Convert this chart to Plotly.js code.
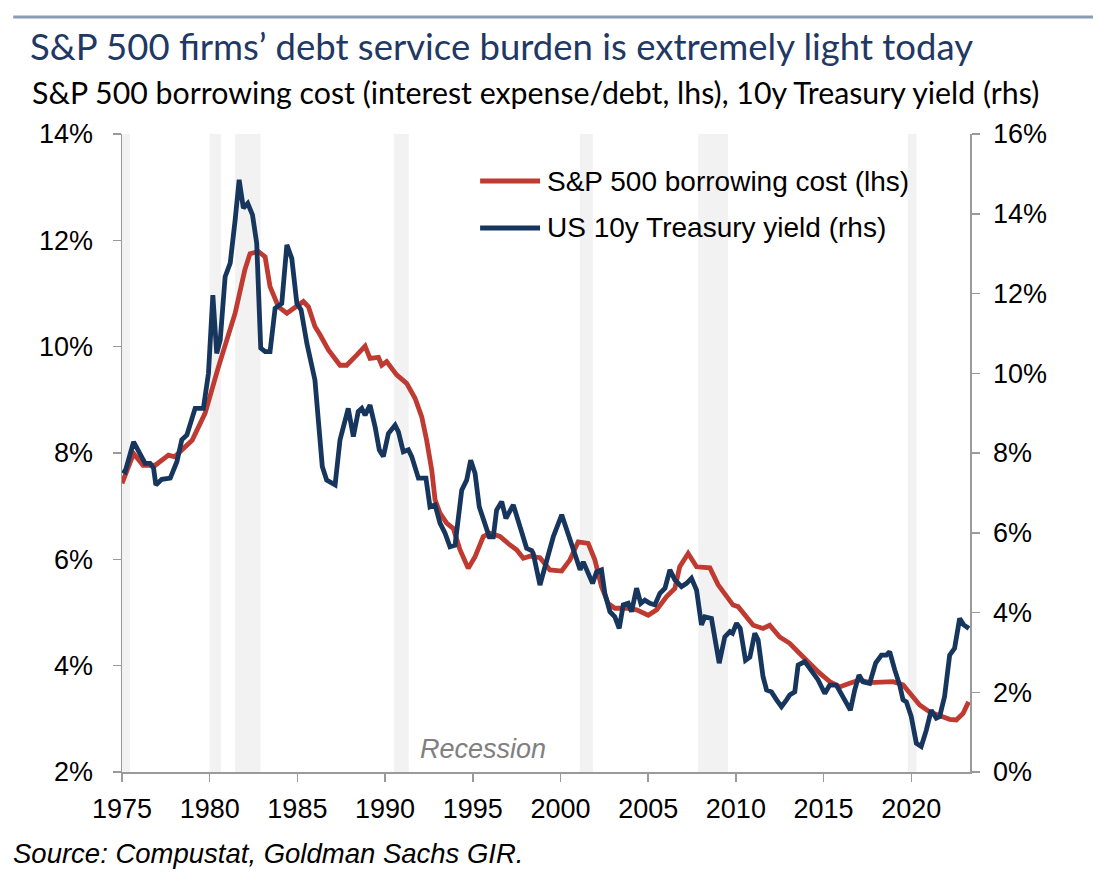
<!DOCTYPE html>
<html>
<head>
<meta charset="utf-8">
<script src="https://cdn.plot.ly/plotly-3.0.1.min.js"></script>
<style>html,body{margin:0;padding:0;background:#fff;}#chart{width:1105px;height:893px;}</style>
</head>
<body>
<div id="chart"></div>
<script>
// S&P 500 borrowing cost (interest expense / debt), % (left axis)
const costYears = [1975.0,1975.66,1976.2,1976.9,1977.65,1978.0,1979.0,1979.74,1980.5,1981.45,1982.0,1982.3,1982.78,1983.16,1983.44,1983.92,1984.4,1984.87,1985.34,1985.63,1986.0,1986.3,1986.77,1987.43,1987.81,1988.38,1988.86,1989.14,1989.62,1989.81,1990.09,1990.66,1991.23,1991.71,1992.09,1992.37,1992.66,1992.85,1993.13,1993.51,1993.89,1994.27,1994.74,1995.13,1995.6,1995.98,1996.55,1997.12,1997.5,1997.88,1998.26,1998.83,1999.4,2000.07,2000.54,2001.01,2001.58,2001.96,2002.34,2002.72,2003.1,2003.77,2004.34,2005.0,2005.48,2006.05,2006.52,2006.8,2007.28,2007.76,2008.52,2008.99,2009.47,2009.84,2010.13,2010.61,2010.99,2011.55,2011.93,2012.5,2013.07,2013.64,2014.21,2014.78,2015.35,2015.92,2016.49,2017.06,2017.63,2018.2,2018.96,2019.53,2020.01,2020.48,2021.05,2021.62,2022.19,2022.57,2022.95,2023.27];
const costValues = [7.43,7.99,7.77,7.77,7.96,7.93,8.24,8.75,9.62,10.63,11.44,11.75,11.79,11.69,11.13,10.75,10.63,10.75,10.85,10.75,10.38,10.22,9.94,9.65,9.65,9.84,10.01,9.78,9.80,9.65,9.72,9.47,9.31,9.03,8.68,8.24,7.68,7.12,6.87,6.68,6.58,6.18,5.83,6.05,6.43,6.49,6.43,6.27,6.18,6.02,6.06,6.03,5.80,5.78,5.99,6.33,6.30,5.99,5.49,5.17,5.08,5.08,5.05,4.95,5.05,5.30,5.45,5.86,6.11,5.86,5.84,5.52,5.30,5.14,5.11,4.90,4.76,4.70,4.76,4.54,4.42,4.23,4.04,3.86,3.70,3.60,3.67,3.73,3.68,3.68,3.70,3.64,3.45,3.26,3.13,3.07,2.99,2.98,3.10,3.32];

// US 10y Treasury yield, % (right axis)
const yieldYears = [1975.03,1975.18,1975.66,1976.04,1976.32,1976.6,1976.8,1976.93,1977.27,1977.75,1978.13,1978.41,1978.7,1979.17,1979.64,1979.93,1980.18,1980.4,1980.6,1980.88,1981.17,1981.45,1981.68,1981.92,1982.17,1982.44,1982.68,1982.91,1983.16,1983.44,1983.73,1984.11,1984.4,1984.68,1984.97,1985.21,1985.54,1986.0,1986.24,1986.42,1986.67,1987.15,1987.43,1987.9,1988.19,1988.47,1988.67,1988.86,1989.14,1989.43,1989.67,1989.9,1990.19,1990.57,1990.76,1991.04,1991.33,1991.52,1991.9,1992.33,1992.56,1992.85,1993.13,1993.42,1993.7,1993.99,1994.37,1994.65,1994.88,1995.13,1995.37,1995.7,1995.94,1996.17,1996.36,1996.65,1996.89,1997.31,1997.69,1998.07,1998.36,1998.45,1998.83,1999.21,1999.59,2000.07,2000.54,2001.12,2001.3,2001.58,2001.83,2002.06,2002.34,2002.53,2002.82,2003.1,2003.35,2003.58,2003.86,2004.05,2004.34,2004.58,2004.81,2005.1,2005.38,2005.67,2005.96,2006.24,2006.52,2006.9,2007.19,2007.47,2007.76,2008.04,2008.23,2008.61,2009.05,2009.37,2009.66,2009.81,2010.04,2010.25,2010.55,2010.8,2011.08,2011.27,2011.55,2011.75,2012.03,2012.32,2012.6,2012.89,2013.07,2013.36,2013.55,2013.93,2014.31,2014.69,2015.07,2015.35,2015.73,2016.11,2016.53,2016.78,2017.02,2017.25,2017.63,2017.97,2018.3,2018.58,2018.77,2019.06,2019.34,2019.53,2019.72,2020.0,2020.29,2020.57,2020.86,2021.14,2021.43,2021.62,2021.9,2022.19,2022.47,2022.76,2022.99,2023.29];
const yieldValues = [7.57,7.53,8.28,7.99,7.74,7.74,7.62,7.20,7.34,7.37,7.78,8.33,8.45,9.12,9.12,10.0,11.96,10.5,10.83,12.42,12.76,13.84,14.85,14.14,14.26,13.97,13.26,10.63,10.54,10.54,11.63,11.75,13.22,12.88,11.75,11.59,10.75,9.83,8.58,7.66,7.32,7.20,8.33,9.12,8.41,9.04,9.12,8.95,9.20,8.66,8.08,7.91,8.49,8.70,8.53,8.03,8.08,7.91,7.37,7.37,6.65,6.70,6.24,5.99,5.65,5.69,7.07,7.32,7.82,7.49,6.65,6.24,5.90,5.90,6.57,6.78,6.36,6.70,6.15,5.61,5.55,5.48,4.69,5.32,5.90,6.45,5.82,5.07,5.27,4.98,4.73,5.02,5.07,4.48,4.02,3.89,3.60,4.19,4.23,4.02,4.61,4.23,4.31,4.23,4.19,4.48,4.61,5.07,4.82,4.65,4.73,4.86,4.56,3.69,3.89,3.85,2.73,3.39,3.52,3.48,3.73,3.60,2.80,2.88,3.48,3.31,2.39,2.06,2.01,1.81,1.64,1.81,1.93,2.01,2.68,2.77,2.56,2.31,1.97,2.18,2.18,1.89,1.55,2.06,2.43,2.26,2.22,2.73,2.93,2.93,3.02,2.56,2.18,1.81,1.76,1.39,0.72,0.64,1.05,1.55,1.35,1.39,1.89,2.93,3.10,3.85,3.69,3.60];

// US recessions (decimal years)
const recessionStart = [1975.0,1980.0,1981.45,1990.5,2001.1,2007.85,2019.8];
const recessionEnd   = [1975.45,1980.65,1982.9,1991.35,2001.85,2009.55,2020.3];

const xTicks = [1975,1980,1985,1990,1995,2000,2005,2010,2015,2020];
const leftTicks = [2,4,6,8,10,12,14];
const rightTicks = [0,2,4,6,8,10,12,14,16];

const RED = '#BF3A30', BLUE = '#17365D', AXIS = '#9A9A9A';
const TICKFONT = {family: 'Liberation Sans, Arial, sans-serif', size: 27, color: '#000'};
const LEGENDFONT = {family: 'Liberation Sans, Arial, sans-serif', size: 28, color: '#000'};

const traces = [
  {x: costYears, y: costValues, type: 'scatter', mode: 'lines', name: 'S&P 500 borrowing cost (lhs)',
   line: {color: RED, width: 4.8}, yaxis: 'y', showlegend: false},
  {x: yieldYears, y: yieldValues, type: 'scatter', mode: 'lines', name: 'US 10y Treasury yield (rhs)',
   line: {color: BLUE, width: 4.8}, yaxis: 'y2', showlegend: false}
];

const shapes = recessionStart.map((s, i) => ({
  type: 'rect', xref: 'x', yref: 'paper', x0: s, x1: recessionEnd[i], y0: 0, y1: 1,
  fillcolor: '#F2F2F2', line: {width: 0}, layer: 'below'
}));
// top rule
shapes.push({type: 'line', xref: 'paper', yref: 'paper', x0: -0.1283, x1: 1.145, y0: 1.1834, y1: 1.1834,
  line: {color: '#8A9BB5', width: 3}});
// legend samples
shapes.push({type: 'line', xref: 'paper', yref: 'paper', x0: 0.4223, x1: 0.4930, y0: 0.9263, y1: 0.9263,
  line: {color: RED, width: 4.8}});
shapes.push({type: 'line', xref: 'paper', yref: 'paper', x0: 0.4223, x1: 0.4930, y0: 0.8527, y1: 0.8527,
  line: {color: BLUE, width: 4.8}});

const annotations = [
  {text: 'S&amp;P 500 borrowing cost (interest expense/debt, lhs), 10y Treasury yield (rhs)',
   xref: 'paper', yref: 'paper', x: -0.108, y: 1.0658, xanchor: 'left', yanchor: 'middle', showarrow: false,
   font: {family: 'Lato, sans-serif', size: 30.3, color: '#000'}},
  {text: traces[0].name.replace('&', '&amp;'), xref: 'paper', yref: 'paper', x: 0.499, y: 0.9263,
   xanchor: 'left', yanchor: 'middle', showarrow: false, font: LEGENDFONT},
  {text: traces[1].name, xref: 'paper', yref: 'paper', x: 0.499, y: 0.8527,
   xanchor: 'left', yanchor: 'middle', showarrow: false, font: LEGENDFONT},
  {text: '<i>Recession</i>', xref: 'paper', yref: 'paper', x: 0.4258, y: 0.036,
   xanchor: 'center', yanchor: 'middle', showarrow: false,
   font: {family: 'Liberation Sans, Arial, sans-serif', size: 27, color: '#808080'}},
  {text: '<i>Source: Compustat, Goldman Sachs GIR.</i>', xref: 'paper', yref: 'paper', x: -0.1305, y: -0.1270,
   xanchor: 'left', yanchor: 'middle', showarrow: false,
   font: {family: 'Liberation Sans, Arial, sans-serif', size: 27.5, color: '#000'}}
];

const layout = {
  width: 1105, height: 893,
  margin: {l: 122, r: 135, t: 134, b: 121, pad: 0},
  paper_bgcolor: '#fff', plot_bgcolor: 'rgba(0,0,0,0)',
  title: {text: 'S&amp;P 500 firms’ debt service burden is extremely light today',
    x: 30/1105, xanchor: 'left', xref: 'container', y: 1 - 47/893, yanchor: 'middle', yref: 'container',
    font: {family: 'Lato, sans-serif', size: 36.5, color: '#1F3864'}},
  xaxis: {range: [1975, 2023.35], tickvals: xTicks, ticktext: xTicks.map(String),
    ticks: 'outside', ticklen: 8, tickwidth: 1.5, tickcolor: AXIS,
    showline: true, linecolor: AXIS, linewidth: 1.5, showgrid: false, zeroline: false,
    tickfont: TICKFONT, ticklabelstandoff: 4, fixedrange: true},
  yaxis: {range: [2, 14], tickvals: leftTicks, ticktext: leftTicks.map(v => v + '%'),
    ticks: 'outside', ticklen: 8, tickwidth: 1.5, tickcolor: AXIS,
    showline: true, linecolor: AXIS, linewidth: 1.5, showgrid: false, zeroline: false,
    tickfont: TICKFONT, ticklabelstandoff: 14},
  yaxis2: {range: [0, 16], tickvals: rightTicks, ticktext: rightTicks.map(v => v + '%'),
    overlaying: 'y', side: 'right',
    ticks: 'outside', ticklen: 8, tickwidth: 1.5, tickcolor: AXIS,
    showline: true, linecolor: AXIS, linewidth: 1.5, showgrid: false, zeroline: false,
    tickfont: TICKFONT, ticklabelstandoff: 8},
  shapes: shapes,
  annotations: annotations,
  showlegend: false
};

Plotly.newPlot('chart', traces, layout, {displayModeBar: false, staticPlot: true});
</script>
</body>
</html>
